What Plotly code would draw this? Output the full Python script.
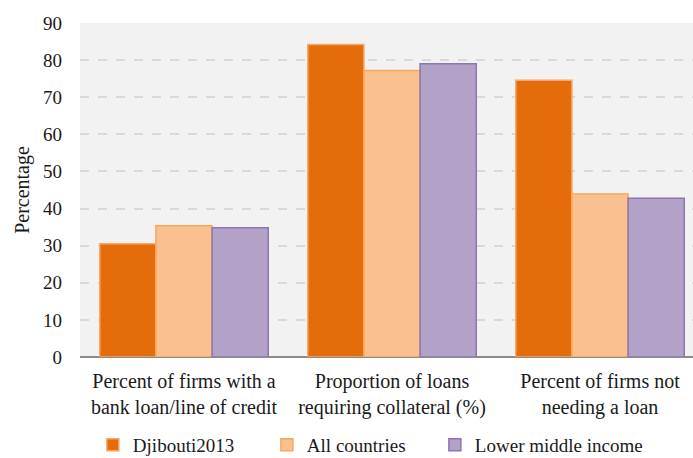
import plotly.graph_objects as go

categories = [
    "Percent of firms with a<br>bank loan/line of credit",
    "Proportion of loans<br>requiring collateral (%)",
    "Percent of firms not<br>needing a loan",
]
djibouti_2013 = [30.5, 84.2, 74.6]
all_countries = [35.4, 77.2, 43.9]
lower_middle_income = [34.8, 79.0, 42.8]

series = [
    ("Djibouti2013", djibouti_2013, "#E46C0A", "#F7A76A", 129),
    ("All countries", all_countries, "#FAC090", "#F9A65A", 123),
    ("Lower middle income", lower_middle_income, "#B3A2C7", "#8E75AD", 190),
]

fig = go.Figure()
for name, vals, fill, line, lw in series:
    fig.add_trace(go.Bar(
        x=categories, y=vals, name=name,
        marker=dict(color=fill, line=dict(color=line, width=1.5)),
        legendwidth=lw,
    ))

serif = "Liberation Serif"
ink = "#1a1a1a"
fig.update_layout(
    width=693, height=458,
    margin=dict(l=80, r=0, t=23, b=101),
    paper_bgcolor="white",
    plot_bgcolor="#F2F2F2",
    barmode="group",
    bargap=0.19,
    bargroupgap=0,
    font=dict(family=serif, size=19, color=ink),
    showlegend=True,
    legend=dict(
        orientation="h", x=0.021, xanchor="left",
        yref="container", y=0.07, yanchor="top",
        font=dict(family=serif, size=19, color=ink), traceorder="normal",
    ),
    xaxis=dict(
        range=[-0.5, 2.447],
        showgrid=False,
        showline=False,
        ticks="",
        ticklabelstandoff=10,
        tickfont=dict(family=serif, size=20, color=ink),
    ),
    yaxis=dict(
        range=[0, 90],
        dtick=10,
        showgrid=True,
        gridcolor="#D9D9D9",
        griddash="dash",
        gridwidth=1.5,
        zeroline=True,
        zerolinecolor="#8C8C8C",
        zerolinewidth=2,
        ticks="",
        ticklabelstandoff=17,
        tickfont=dict(family=serif, size=19, color=ink),
        title=dict(text="Percentage", font=dict(family=serif, size=20, color=ink), standoff=8),
    ),
)

fig.write_html("out.html")
